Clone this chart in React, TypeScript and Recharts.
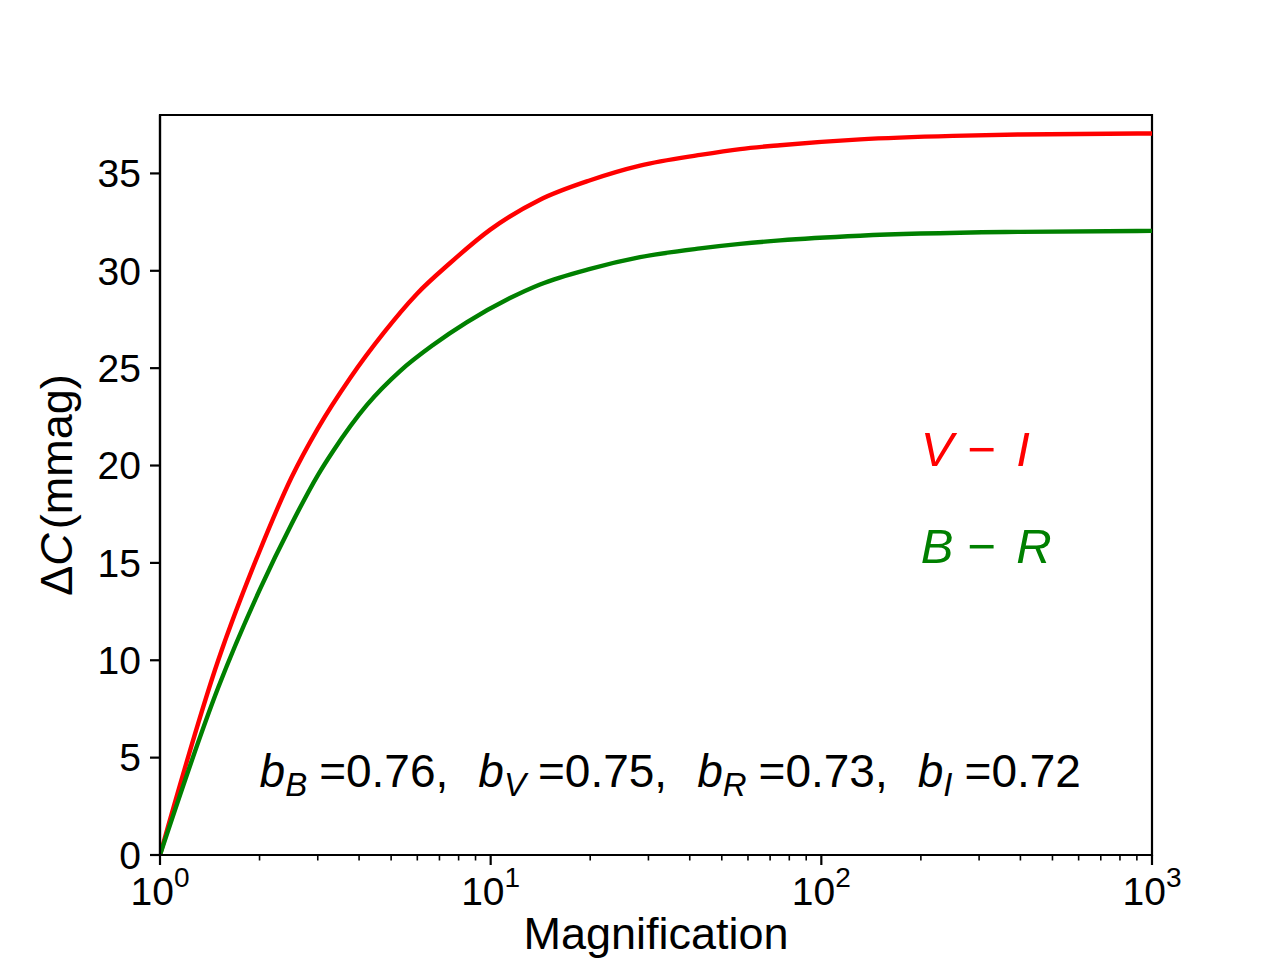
import React from "react";
import { LineChart, Line, XAxis, YAxis, ReferenceArea, ReferenceDot } from "recharts";

// values (magnification on a log axis)
const viMag = [1, 1.5, 2, 2.5, 3, 3.76, 4.74, 5.97, 7.54, 9.95, 14.1, 20, 28.3, 43, 56.8, 75, 131, 250, 400, 1000];
const viDelta = [0, 10.0, 15.6, 19.4, 21.9, 24.5, 26.8, 28.8, 30.4, 32.1, 33.65, 34.65, 35.4, 35.95, 36.25, 36.45, 36.75, 36.93, 37.0, 37.05];

const brMag = [1, 1.5, 2, 2.5, 3, 3.34, 4.22, 5.32, 6.71, 8.46, 11.44, 14.1, 20, 28.3, 43, 56.8, 75, 131, 400, 1000];
const brDelta = [0, 8.6, 13.6, 17.0, 19.5, 20.75, 23.1, 24.85, 26.2, 27.35, 28.6, 29.3, 30.1, 30.7, 31.15, 31.38, 31.56, 31.8, 32.0, 32.05];

const majorTicks = [1, 10, 100, 1000];
const majorExponents = ["0", "1", "2", "3"];
const minorTicks = [2, 3, 4, 5, 6, 7, 8, 9, 20, 30, 40, 50, 60, 70, 80, 90, 200, 300, 400, 500, 600, 700, 800, 900];
const yTicks = [0, 5, 10, 15, 20, 25, 30, 35];

const bBands = ["B", "V", "R", "I"];
const bValues = ["0.76", "0.75", "0.73", "0.72"];

const viData = viMag.map((m, i) => ({ mag: m, d: viDelta[i] }));
const brData = brMag.map((m, i) => ({ mag: m, d: brDelta[i] }));

const FONT = "'Liberation Sans', Arial, sans-serif";

function XTick(props: any) {
  const { x, y, payload } = props;
  const idx = majorTicks.indexOf(payload.value);
  if (idx < 0) {
    return <line x1={x} y1={y} x2={x} y2={y + 5.5} stroke="#000" strokeWidth={1.6} />;
  }
  return (
    <g>
      <line x1={x} y1={y} x2={x} y2={y + 10} stroke="#000" strokeWidth={2.2} />
      <text x={x} y={y + 50} textAnchor="middle" fontFamily={FONT} fontSize={39} fill="#000">
        10
        <tspan dy={-18} fontSize={28}>{majorExponents[idx]}</tspan>
      </text>
    </g>
  );
}

function YLabel(props: any) {
  const { viewBox } = props;
  const cx = viewBox.x + 26;
  const cy = viewBox.y + viewBox.height / 2;
  return (
    <text
      x={cx}
      y={cy}
      transform={`rotate(-90 ${cx} ${cy})`}
      textAnchor="middle"
      dominantBaseline="central"
      fontFamily={FONT}
      fontSize={45}
      fill="#000"
    >
      Δ<tspan fontStyle="italic">C</tspan>
      <tspan dx={4}>(mmag)</tspan>
    </text>
  );
}

function XLabel(props: any) {
  const { viewBox } = props;
  return (
    <text
      x={viewBox.x + viewBox.width / 2}
      y={viewBox.y + 94}
      textAnchor="middle"
      fontFamily={FONT}
      fontSize={45}
      fill="#000"
    >
      Magnification
    </text>
  );
}

function colorLabel(a: string, b: string, color: string) {
  return (props: any) => {
    const { viewBox } = props;
    return (
      <text x={viewBox.x + 1} y={viewBox.y + 1} fontFamily={FONT} fontSize={49} fill={color}>
        <tspan fontStyle="italic">{a}</tspan>
        <tspan dx={14}>{"\u2212"}</tspan>
        <tspan dx={20} fontStyle="italic">{b}</tspan>
      </text>
    );
  };
}

function BLabel(props: any) {
  const { viewBox } = props;
  const parts: React.ReactNode[] = [];
  bBands.forEach((band, i) => {
    parts.push(
      <tspan key={"b" + i} fontStyle="italic" dx={i === 0 ? 0 : 30}>b</tspan>,
      <tspan key={"s" + i} fontStyle="italic" fontSize={33} dy={9}>{band}</tspan>,
      <tspan key={"v" + i} dy={-9} dx={12}>{"=" + bValues[i] + (i < bBands.length - 1 ? "," : "")}</tspan>
    );
  });
  return (
    <text x={viewBox.x + 1} y={viewBox.y + 1} fontFamily={FONT} fontSize={46} fill="#000">
      {parts}
    </text>
  );
}

export default function App() {
  return (
    <div style={{ width: 1280, height: 960, background: "#fff" }}>
      <style>{"body{margin:0}"}</style>
      <LineChart width={1280} height={960} margin={{ top: 115, right: 128, bottom: 5, left: 30 }}>
        <XAxis
          dataKey="mag"
          type="number"
          scale="log"
          domain={[1, 1000]}
          allowDataOverflow
          ticks={[...majorTicks, ...minorTicks]}
          interval={0}
          tick={<XTick />}
          tickLine={false}
          tickSize={0}
          tickMargin={0}
          height={100}
          axisLine={{ stroke: "#000", strokeWidth: 2.2 }}
          label={{ content: <XLabel /> }}
        />
        <YAxis
          type="number"
          domain={[0, 38]}
          ticks={yTicks}
          interval={0}
          width={130}
          tickSize={10}
          tickMargin={9}
          tickLine={{ stroke: "#000", strokeWidth: 2.2 }}
          axisLine={{ stroke: "#000", strokeWidth: 2.2 }}
          tick={{ fill: "#000", fontSize: 39, fontFamily: FONT }}
          label={{ content: <YLabel /> }}
        />
        <ReferenceArea x1={1} x2={1000} y1={0} y2={38} fill="none" stroke="#000" strokeWidth={2.2} />
        <Line data={viData} type="monotone" dataKey="d" stroke="#ff0000" strokeWidth={4.4} dot={false} isAnimationActive={false} />
        <Line data={brData} type="monotone" dataKey="d" stroke="#008000" strokeWidth={4.4} dot={false} isAnimationActive={false} />
        <ReferenceDot x={200} y={20} r={1} fill="none" stroke="none" label={{ content: colorLabel("V", "I", "#ff0000") }} />
        <ReferenceDot x={200} y={15} r={1} fill="none" stroke="none" label={{ content: colorLabel("B", "R", "#008000") }} />
        <ReferenceDot x={2} y={3.5} r={1} fill="none" stroke="none" label={{ content: <BLabel /> }} />
      </LineChart>
    </div>
  );
}
